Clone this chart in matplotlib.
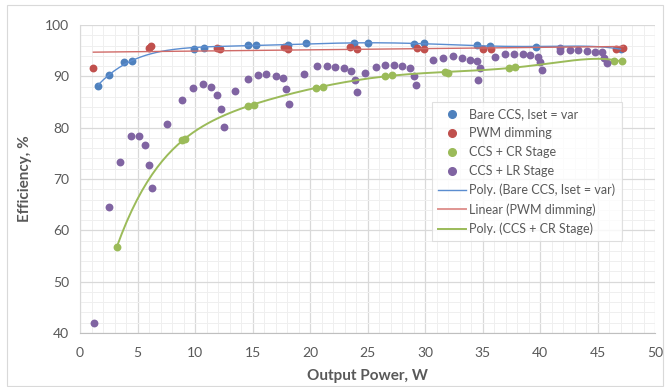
import numpy as np
import matplotlib
matplotlib.use("Agg")
import matplotlib.pyplot as plt
from matplotlib.lines import Line2D
from matplotlib.patches import Rectangle

plt.rcParams['font.family'] = ['Lato', 'DejaVu Sans']

# Bare CCS, Iset = var
bare_x = [1.6, 2.5, 3.8, 4.55, 9.9, 10.8, 14.6, 15.3, 18.1, 19.65, 23.8, 25.0,
          29.0, 29.9, 34.5, 35.65, 39.65, 47.0]
bare_y = [88.2, 90.3, 92.7, 92.9, 95.4, 95.6, 96.1, 96.1, 96.2, 96.5, 96.4, 96.4,
          96.3, 96.4, 96.1, 96.0, 95.7, 95.3]

# PWM dimming
pwm_x = [1.16, 6.0, 6.15, 11.9, 12.2, 17.7, 18.1, 23.5, 24.1, 29.3, 29.9,
         35.0, 35.7, 46.6, 47.25]
pwm_y = [91.6, 95.6, 95.9, 95.6, 95.3, 95.65, 95.3, 95.7, 95.3, 95.6, 95.4,
         95.4, 95.4, 95.3, 95.45]

# CCS + CR Stage
cr_x = [3.19, 8.9, 9.1, 14.6, 15.1, 20.5, 21.1, 26.5, 27.1, 31.7, 32.0,
        37.3, 37.85, 46.4, 47.1]
cr_y = [56.7, 77.5, 77.8, 84.2, 84.5, 87.8, 87.9, 90.1, 90.25, 90.8, 90.6,
        91.7, 91.8, 93.0, 93.05]

# CCS + LR Stage
lr_x = [1.22, 2.5, 3.48, 4.4, 5.13, 5.68, 6.0, 6.26, 7.6, 8.84, 9.83, 10.7, 11.4,
        11.95, 12.3, 12.5, 13.45, 14.6, 15.45, 16.2, 17.0, 17.65, 17.9, 18.15,
        19.5, 20.6, 21.45, 22.2, 22.96, 23.6, 23.9, 24.1, 24.75, 25.7, 26.5,
        27.3, 28.0, 28.7, 29.0, 29.2, 30.7, 31.6, 32.4, 33.2, 33.9, 34.5, 34.8,
        34.6, 36.1, 36.95, 37.7, 38.5, 39.15, 39.85, 40.0, 40.2, 41.7, 41.7,
        42.6, 43.3, 44.1, 44.8, 45.4, 45.6, 45.8]
lr_y = [41.9, 64.5, 73.4, 78.3, 78.4, 76.6, 72.8, 68.3, 80.7, 85.4, 87.7, 88.6, 87.9,
        86.3, 83.6, 80.1, 87.1, 89.5, 90.2, 90.5, 90.0, 89.6, 87.5, 84.7,
        90.5, 92.0, 92.0, 91.9, 91.6, 91.0, 89.2, 87.0, 90.6, 91.8, 92.2,
        92.3, 92.0, 91.6, 90.1, 88.4, 93.1, 93.5, 93.9, 93.5, 93.2, 92.9, 91.7,
        89.2, 93.8, 94.4, 94.4, 94.3, 94.1, 93.8, 92.7, 91.2, 95.5, 94.9,
        95.1, 95.05, 95.0, 94.8, 94.7, 93.6, 92.5]

c_blue = '#4F81BD'
c_red = '#C0504D'
c_green = '#9BBB59'
c_purple = '#8064A2'

fig = plt.figure(figsize=(6.68, 3.87), dpi=100)
ax = fig.add_axes([80/668, 1 - 333/387, 575/668, 308/387])

# chart area border
fig.patches.append(Rectangle((7/668, 1.5/387), 656/668, 381/387, transform=fig.transFigure,
                             fill=False, edgecolor='#D9D9D9', linewidth=0.8))

ax.set_xlim(0, 50)
ax.set_ylim(40, 100)
ax.set_xticks(np.arange(0, 51, 5))
ax.set_yticks(np.arange(40, 101, 10))
ax.set_xticks(np.arange(0, 51, 1), minor=True)
ax.set_yticks(np.arange(40, 101, 2), minor=True)
ax.grid(which='major', color='#D9D9D9', linewidth=0.9)
ax.grid(which='minor', color='#EFEFEF', linewidth=0.7)
ax.set_axisbelow(True)
for s in ['top', 'right']:
    ax.spines[s].set_visible(False)
ax.spines['left'].set_color('#D9D9D9')
ax.spines['bottom'].set_color('#BFBFBF')
ax.tick_params(which='both', length=0, labelsize=10, labelcolor='#595959')
ax.tick_params(axis='x', pad=10)
ax.tick_params(axis='y', pad=8)

ax.set_xlabel('Output Power, W', fontsize=11, fontweight='bold', color='#595959', labelpad=7)
ax.set_ylabel('Efficiency, %', fontsize=11, fontweight='bold', color='#595959', labelpad=9)

ms = 32
ax.scatter(bare_x, bare_y, s=ms, color=c_blue, zorder=3, linewidths=0)
ax.scatter(pwm_x, pwm_y, s=ms, color=c_red, zorder=3, linewidths=0)
ax.scatter(cr_x, cr_y, s=ms, color=c_green, zorder=3, linewidths=0)
ax.scatter(lr_x, lr_y, s=ms, color=c_purple, zorder=3, linewidths=0)

# trendlines, fitted from the points like the spreadsheet does
xb = np.linspace(min(bare_x), max(bare_x), 200)
pb = np.polyfit(bare_x, bare_y, 6)
ax.plot(xb, np.polyval(pb, xb), color='#5B8DD0', linewidth=1.0, zorder=4)

xr = np.linspace(min(pwm_x), max(pwm_x), 50)
pr = np.polyfit(pwm_x, pwm_y, 1)
ax.plot(xr, np.polyval(pr, xr), color='#D06B68', linewidth=1.0, zorder=4)

xg = np.linspace(min(cr_x), max(cr_x), 200)
pg = np.polyfit(cr_x, cr_y, 6)
ax.plot(xg, np.polyval(pg, xg), color=c_green, linewidth=1.4, zorder=4)

handles = [
    Line2D([], [], linestyle='none', marker='o', markersize=5.5, color=c_blue),
    Line2D([], [], linestyle='none', marker='o', markersize=5.5, color=c_red),
    Line2D([], [], linestyle='none', marker='o', markersize=5.5, color=c_green),
    Line2D([], [], linestyle='none', marker='o', markersize=5.5, color=c_purple),
    Line2D([], [], color='#5B8DD0', linewidth=1.0),
    Line2D([], [], color='#E09592', linewidth=1.4),
    Line2D([], [], color=c_green, linewidth=1.4),
]
labels = ['Bare CCS, Iset = var', 'PWM dimming', 'CCS + CR Stage', 'CCS + LR Stage',
          'Poly. (Bare CCS, Iset = var)', 'Linear (PWM dimming)', 'Poly. (CCS + CR Stage)']
leg = ax.legend(handles, labels, loc='upper left', bbox_to_anchor=(0.612, 0.75),
                fontsize=9, frameon=True, fancybox=False, handlelength=2.2,
                handletextpad=0.3, labelspacing=0.55, borderpad=0.5, borderaxespad=0)
leg.get_frame().set_edgecolor('#D9D9D9')
leg.get_frame().set_linewidth(0.8)
for t in leg.get_texts():
    t.set_color('#595959')

fig.savefig('out.png', dpi=100)
